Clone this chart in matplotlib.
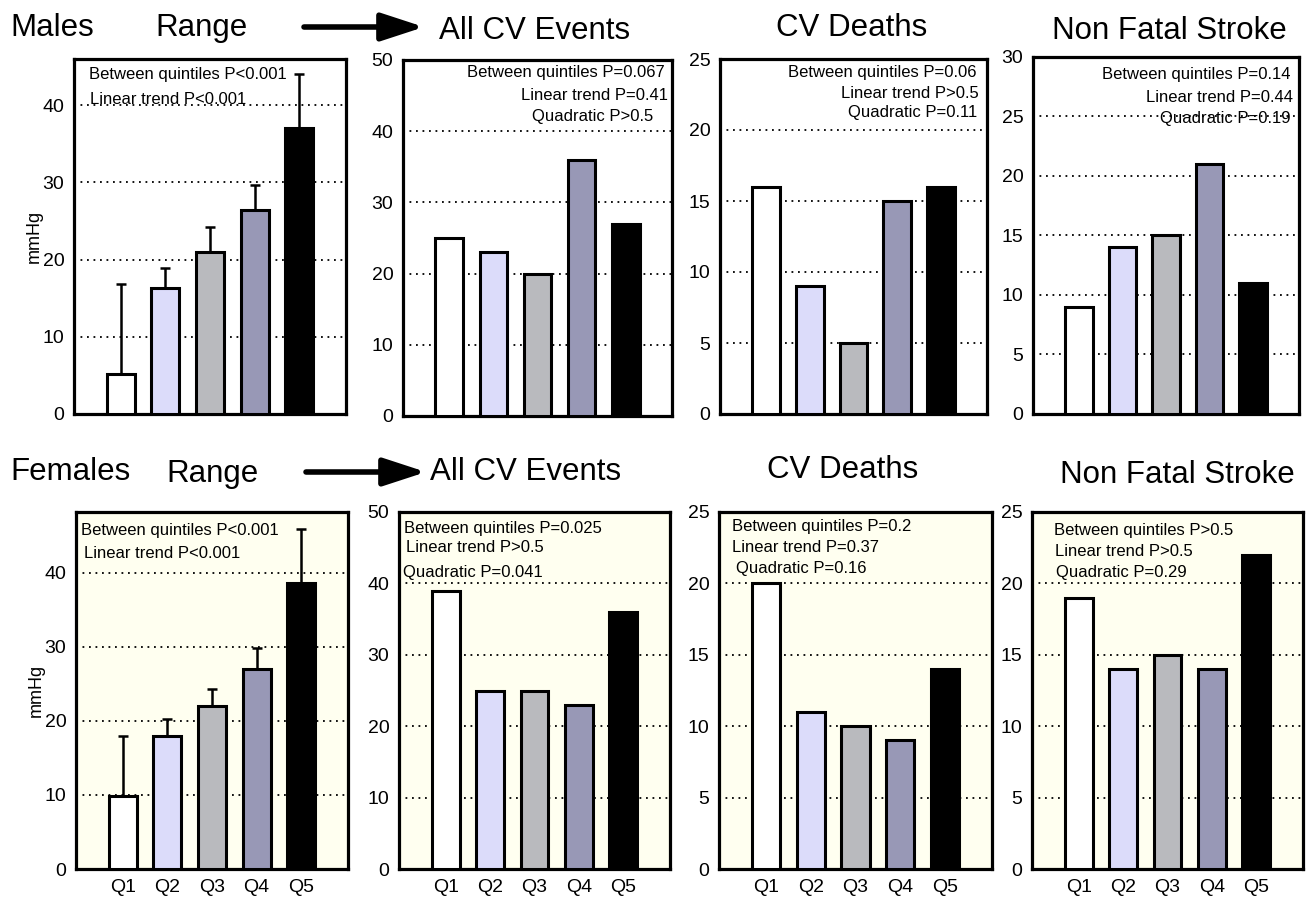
import matplotlib

matplotlib.use("Agg")
import matplotlib.pyplot as plt
from matplotlib.patches import FancyArrowPatch

plt.rcParams["font.family"] = ["Liberation Sans", "DejaVu Sans"]

quintiles = ["Q1", "Q2", "Q3", "Q4", "Q5"]
bar_colors = ["#ffffff", "#dcdcfa", "#b9babe", "#9898b6", "#000000"]

# Range of blood pressure (mmHg) per quintile, with upper error
males_range = [5.2, 16.3, 21.0, 26.4, 37.0]
males_range_err = [11.6, 2.6, 3.2, 3.3, 7.0]
females_range = [9.8, 17.9, 22.0, 27.0, 38.6]
females_range_err = [8.2, 2.3, 2.3, 2.8, 7.3]

# Event counts per quintile
males_cv_events = [25, 23, 20, 36, 27]
males_cv_deaths = [16, 9, 5, 15, 16]
males_stroke = [9, 14, 15, 21, 11]
females_cv_events = [39, 25, 25, 23, 36]
females_cv_deaths = [20, 11, 10, 9, 14]
females_stroke = [19, 14, 15, 14, 22]

W, H = 1308, 900
fig = plt.figure(figsize=(W / 100, H / 100), dpi=100)
fig.patch.set_facecolor("white")


def frac(x, y):
    return x / W, 1 - y / H


def make_axes(x0, y0, x1, y1, ymax, step, show_top, bg, show_x):
    ax = fig.add_axes([x0 / W, 1 - y1 / H, (x1 - x0) / W, (y1 - y0) / H])
    ax.set_facecolor(bg)
    ax.set_xlim(-1.05, 5.05)
    ax.set_ylim(0, ymax)
    ticks = list(range(0, int(ymax) + 1, step))
    if not show_top:
        ticks = [t for t in ticks if t < ymax]
    ax.set_yticks(ticks)
    ax.set_xticks(range(5))
    ax.set_xticklabels(quintiles if show_x else [])
    ax.tick_params(length=0, labelsize=14, pad=7)
    for s in ax.spines.values():
        s.set_linewidth(2.3)
    ax.set_axisbelow(True)
    ax.yaxis.grid(True, color="black", linestyle=(0, (1, 2.6)), linewidth=1.3)
    return ax


def draw_bars(ax, values, err=None):
    x = range(len(values))
    if err is not None:
        ax.errorbar(x, values, yerr=[[0] * len(err), err], fmt="none", ecolor="black",
                    elinewidth=1.8, capsize=3.5, capthick=1.8, zorder=2)
    ax.bar(x, values, width=0.63, color=bar_colors, edgecolor="black", linewidth=2.2, zorder=3)


def ptext(x, y, s, ha):
    fig.text(*frac(x, y), s, ha=ha, va="center", fontsize=12)


def heading(x, y, s, ha="center"):
    fig.text(*frac(x, y), s, ha=ha, va="center", fontsize=22.5)


def arrow(x0, x1, y):
    fig.add_artist(FancyArrowPatch(frac(x0, y), frac(x1, y), transform=fig.transFigure,
                                   arrowstyle="-|>,head_length=2.6,head_width=0.85",
                                   mutation_scale=10, linewidth=4, color="black",
                                   capstyle="round", shrinkA=0, shrinkB=0))


ivory = "#fffff0"

# ---- males (top row)
ax = make_axes(74, 59, 346, 414, 46, 10, False, "white", False)
draw_bars(ax, males_range, males_range_err)
ax.set_ylabel("mmHg", fontsize=13, labelpad=0)
ax = make_axes(403, 60, 672, 416, 50, 10, True, "white", False)
draw_bars(ax, males_cv_events)
ax = make_axes(720, 59, 987, 414, 25, 5, True, "white", False)
draw_bars(ax, males_cv_deaths)
ax = make_axes(1033, 57, 1299, 414, 30, 5, True, "white", False)
draw_bars(ax, males_stroke)

heading(10, 28, "Males", ha="left")
heading(155, 28, "Range", ha="left")
arrow(304, 424, 27)
heading(535, 31, "All CV Events")
heading(852, 28, "CV Deaths")
heading(1169, 31, "Non Fatal Stroke")

ptext(89, 75, "Between quintiles P<0.001", "left")
ptext(90, 99, "Linear trend P<0.001", "left")
ptext(665, 73, "Between quintiles P=0.067", "right")
ptext(668, 95, "Linear trend P=0.41", "right")
ptext(653, 116, "Quadratic P>0.5", "right")
ptext(977, 73, "Between quintiles P=0.06", "right")
ptext(979, 93, "Linear trend P>0.5", "right")
ptext(977, 113, "Quadratic P=0.11", "right")
ptext(1291, 74, "Between quintiles P=0.14", "right")
ptext(1293, 97, "Linear trend P=0.44", "right")
ptext(1291, 118, "Quadratic P=0.19", "right")

# ---- females (bottom row)
ax = make_axes(76, 512, 348, 869, 48.2, 10, False, ivory, True)
draw_bars(ax, females_range, females_range_err)
ax.set_ylabel("mmHg", fontsize=13, labelpad=0)
ax = make_axes(399, 512, 670, 869, 50, 10, True, ivory, True)
draw_bars(ax, females_cv_events)
ax = make_axes(719, 512, 992, 869, 25, 5, True, ivory, True)
draw_bars(ax, females_cv_deaths)
ax = make_axes(1032, 512, 1303, 869, 25, 5, True, ivory, True)
draw_bars(ax, females_stroke)

heading(10, 472, "Females", ha="left")
heading(166, 474, "Range", ha="left")
arrow(306, 426, 472)
heading(526, 472, "All CV Events")
heading(843, 470, "CV Deaths")
heading(1177, 475, "Non Fatal Stroke")

ptext(81, 531, "Between quintiles P<0.001", "left")
ptext(84, 554, "Linear trend P<0.001", "left")
ptext(404, 529, "Between quintiles P=0.025", "left")
ptext(406, 548, "Linear trend P>0.5", "left")
ptext(403, 572, "Quadratic P=0.041", "left")
ptext(732, 527, "Between quintiles P=0.2", "left")
ptext(732, 548, "Linear trend P=0.37", "left")
ptext(736, 569, "Quadratic P=0.16", "left")
ptext(1054, 531, "Between quintiles P>0.5", "left")
ptext(1055, 551, "Linear trend P>0.5", "left")
ptext(1056, 572, "Quadratic P=0.29", "left")

fig.savefig("out.png", dpi=100)
